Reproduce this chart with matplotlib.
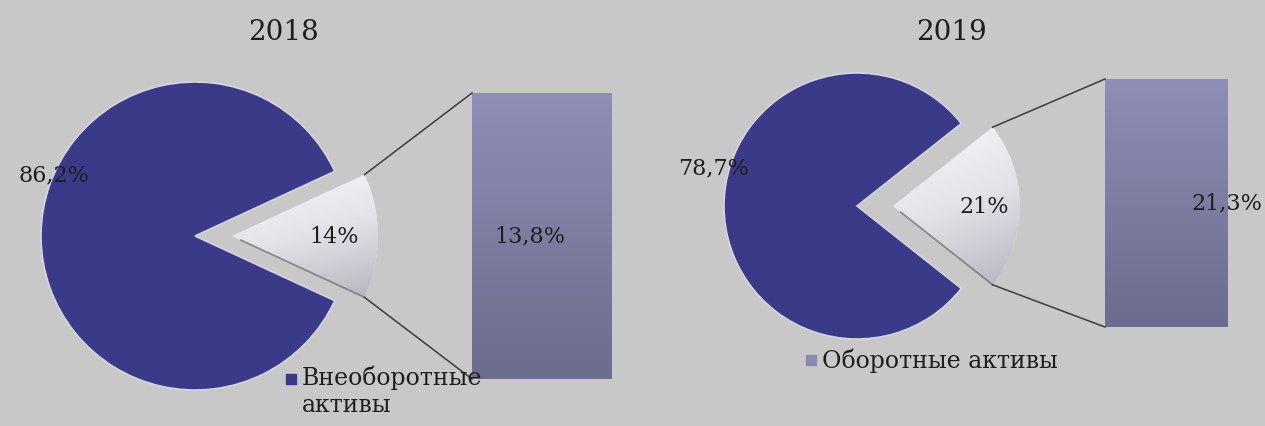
import numpy as np
import matplotlib.pyplot as plt
from matplotlib.colors import LinearSegmentedColormap

# Структура активов по годам, %
years = ["2018", "2019"]
noncurrent = [86.2, 78.7]
current = [13.8, 21.3]
legend_labels = ["Внеоборотные\nактивы", "Оборотные активы"]

BG = "#c8c8c8"
DARK = "#3a3a88"
INK = "#1e1e1e"
W, H = 1265, 427

plt.rcParams['font.family'] = ['DejaVu Serif']

fig = plt.figure(figsize=(W / 100, H / 100), dpi=100, facecolor=BG)
ax = fig.add_axes([0, 0, 1, 1])
ax.set_facecolor(BG)

light_cmap = LinearSegmentedColormap.from_list("light", ["#f8f8fb", "#e2e2e8", "#b6b6c0"])
bar_cmap = LinearSegmentedColormap.from_list("bar", ["#8e8eb6", "#6c6c8e"])

# компоновка: центр круга, радиус, вынос сектора (px), столбец (x, низ, ширина, высота)
layouts = [
    dict(center=(195, 190), r=154, explode=37, small_r=146, title_x=283,
         bar=(472, 47, 140, 286), big_lbl=(18, 252), small_lbl_k=0.70,
         bar_lbl=(530, "center")),
    dict(center=(857, 220), r=133, explode=36, small_r=127, title_x=952,
         bar=(1105, 99, 123, 248), big_lbl=(678, 259), small_lbl_k=0.72,
         bar_lbl=(1262, "right")),
]


def gradient_fill(patch, cmap, diagonal=False):
    x0, y0, x1, y1 = patch.get_window_extent().transformed(ax.transData.inverted()).extents
    g = np.linspace(0, 1, 256).reshape(-1, 1)
    if diagonal:
        g = g * 0.75 + np.linspace(0, 1, 256).reshape(1, -1) * 0.25
    im = ax.imshow(g, cmap=cmap, extent=(x0, x1, y0, y1), origin="upper",
                   aspect="auto", zorder=patch.get_zorder() + 0.1, interpolation="bilinear")
    im.set_clip_path(patch)


ax.set_xlim(0, W)
ax.set_ylim(0, H)

for i, lay in enumerate(layouts):
    small, big = current[i], noncurrent[i]
    start = -small / (small + big) * 360 / 2
    wedges, _ = ax.pie([small, big], colors=["#e4e4ea", DARK], startangle=start,
                       explode=[lay["explode"], 0], center=lay["center"], radius=lay["r"],
                       frame=True, wedgeprops=dict(linewidth=1.2, edgecolor="#d4d4e2"))
    sw = wedges[0]
    sw.set_radius(lay["small_r"])
    sw.set_edgecolor("none")
    sw.set_zorder(2)
    gradient_fill(sw, light_cmap, diagonal=True)

    cx, cy = sw.center
    r = sw.r
    t1, t2 = np.radians(sw.theta1), np.radians(sw.theta2)
    top = (cx + r * np.cos(t2), cy + r * np.sin(t2))
    bot = (cx + r * np.cos(t1), cy + r * np.sin(t1))

    # тень по нижней кромке выдвинутого сектора
    ax.plot([cx + 10 * np.cos(t1), bot[0]], [cy + 10 * np.sin(t1), bot[1]],
            color="#5a5a5a", lw=1.3, alpha=0.6, zorder=3)

    # столбец вторичной диаграммы
    bx, by, bw, bh = lay["bar"]
    bar = ax.bar(bx, bh, width=bw, bottom=by, align="edge", color="#7c7ca0", zorder=2)[0]
    gradient_fill(bar, bar_cmap)

    # соединительные линии
    ax.plot([top[0], bx], [top[1], by + bh], color="#3c3c3c", lw=1.1, zorder=3)
    ax.plot([bot[0], bx], [bot[1], by], color="#3c3c3c", lw=1.1, zorder=3)

    # подписи
    ax.text(lay["title_x"], H - 32, years[i], fontsize=20, ha="center", va="center", color=INK)
    ax.text(*lay["big_lbl"], f"{big:.1f}%".replace(".", ","), fontsize=16,
            ha="left", va="center", color=INK, zorder=5)
    k = lay["small_lbl_k"]
    ax.text(cx + k * r, cy, f"{round(small)}%", fontsize=16, ha="center", va="center",
            color=INK, zorder=5)
    lx, lha = lay["bar_lbl"]
    ax.text(lx, by + bh / 2 + 1, f"{small:.1f}%".replace(".", ","), fontsize=16,
            ha=lha, va="center", color=INK, zorder=5)

ax.set_xlim(0, W)
ax.set_ylim(0, H)
ax.axis("off")

# легенда
ax.plot(291, H - 380, marker="s", ms=7, color=DARK, zorder=5)
ax.text(302, H - 366, legend_labels[0], fontsize=17, ha="left", va="top", linespacing=1.2,
        color=INK, zorder=5)
ax.plot(811, H - 361, marker="s", ms=7, color="#8a8aae", zorder=5)
ax.text(822, H - 361, legend_labels[1], fontsize=17, ha="left", va="center", color=INK, zorder=5)

fig.savefig("out.png", dpi=100, facecolor=BG)
